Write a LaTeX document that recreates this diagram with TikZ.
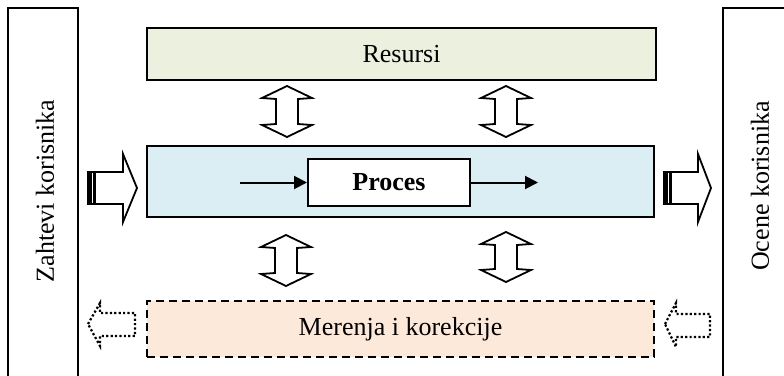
\documentclass[tikz,border=0pt]{standalone}
\usepackage{fontspec}
\setmainfont{Liberation Serif}
\usetikzlibrary{arrows.meta}
\definecolor{resfill}{HTML}{EBF1DE}
\definecolor{profill}{HTML}{DBEEF3}
\definecolor{merfill}{HTML}{FDE9D9}
\tikzset{
  bigfont/.style={font=\fontsize{26}{30}\selectfont},
  panel/.style={draw=black, line width=2pt, inner sep=0pt, bigfont},
  sidebox/.style={draw=black, line width=1.6pt},
  udarr/.style={draw=black, fill=white, line width=1.8pt, line join=miter},
  blockarr/.style={draw=black, fill=white, line width=1.8pt, line join=miter},
  dotarr/.style={draw=black, fill=white, line width=2.2pt, dash pattern=on 2.2pt off 2.2pt, line join=miter},
  flow/.style={line width=2pt, -{Triangle[length=13pt,width=13pt]}}
}
\newcommand{\UDarrow}[3]{% center x, top y, bottom y
  \draw[udarr] (#1,#2) -- (#1+25,#2+12) -- (#1+11,#2+13) -- (#1+11,#3-13) -- (#1+25,#3-12) -- (#1,#3)
    -- (#1-25,#3-12) -- (#1-11,#3-13) -- (#1-11,#2+13) -- (#1-25,#2+12) -- cycle;}
\begin{document}
\begin{tikzpicture}[x=1pt,y=-1pt]
\useasboundingbox (0,0) rectangle (784,375);
\clip (0,0) rectangle (784,375);
% side boxes
\draw[sidebox] (8,400) -- (8,8) -- (78,8) -- (78,400);
\node[bigfont, rotate=90] (zahtevi) at (45,191) {Zahtevi korisnika};
\draw[sidebox] (723,400) -- (723,8) -- (800,8);
\node[bigfont, rotate=90] (ocene) at (760,186) {Ocene korisnika};
% panels
\node[panel, fill=resfill, minimum width=509pt, minimum height=52pt] (resursi) at (401.5,54) {Resursi};
\node[panel, fill=profill, minimum width=507pt, minimum height=71pt] (procesblok) at (400.5,181.5) {};
\node[panel, fill=white, minimum width=162pt, minimum height=47pt, font=\fontsize{26}{30}\selectfont\bfseries] (proces) at (389,182.5) {Proces};
\node[panel, fill=merfill, dash pattern=on 8pt off 5pt, minimum width=507pt, minimum height=56pt] (merenja) at (400.5,329) {Merenja i korekcije};
% flow arrows
\coordinate (in) at (240,182.5);
\coordinate (out) at (538,182.5);
\draw[flow] (in) -- (proces.west);
\draw[flow] (proces.east) -- (out);
% up-down arrows
\UDarrow{287}{86}{137}
\UDarrow{506}{86}{137}
\UDarrow{286}{235}{286}
\UDarrow{506}{232}{282}
% input block arrow
\draw[blockarr] (88,172) -- (123,172) -- (123,154) -- (137,188) -- (123,222) -- (123,204) -- (88,204) -- cycle;
\fill[black] (87,171) rectangle (96,205);
\draw[white, line width=0.6pt] (92.5,173) -- (92.5,203);
% output block arrow
\draw[blockarr] (664,172) -- (698,172) -- (698,154) -- (711,188) -- (698,222) -- (698,204) -- (664,204) -- cycle;
\fill[black] (663,171) rectangle (672,205);
\draw[white, line width=0.6pt] (668.5,173) -- (668.5,203);
% dotted feedback arrows
\draw[dotarr] (88,324) -- (100,303) -- (100,313) -- (135,313) -- (135,336) -- (100,336) -- (100,346) -- cycle;
\draw[dotarr] (665,324) -- (676,303) -- (676,314) -- (710,314) -- (710,337) -- (676,337) -- (676,347) -- cycle;
\end{tikzpicture}
\end{document}
